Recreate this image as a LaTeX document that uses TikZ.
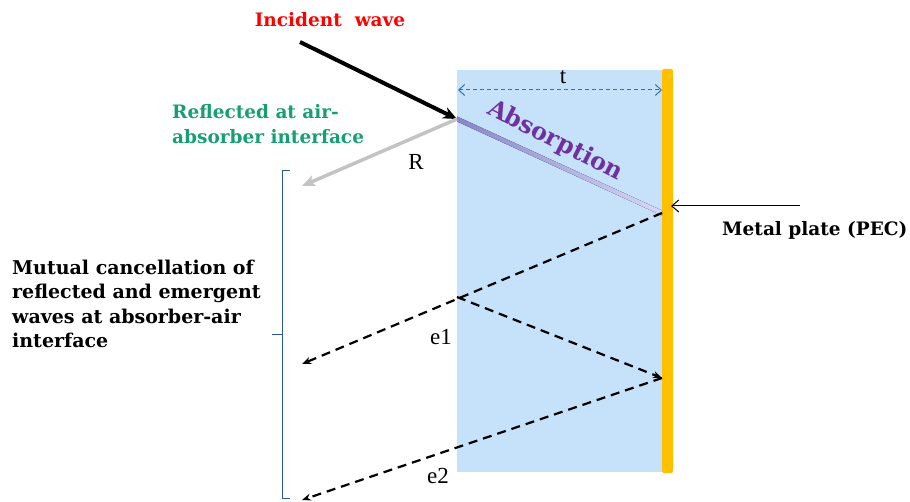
\documentclass[tikz,border=0pt]{standalone}
\usepackage{fontspec}
\setmainfont{Liberation Serif}
\newfontfamily\cambfont{DejaVu Serif}
\usetikzlibrary{arrows.meta}
\definecolor{absblue}{RGB}{198,225,250}
\definecolor{plate}{RGB}{255,192,0}
\definecolor{incred}{RGB}{255,0,0}
\definecolor{reflgreen}{RGB}{24,158,116}
\definecolor{abspurple}{RGB}{112,48,160}
\definecolor{tblue}{RGB}{46,117,182}
\definecolor{bracecol}{RGB}{40,90,160}
\definecolor{refgray}{RGB}{195,195,195}
\definecolor{gradA}{RGB}{135,135,200}
\definecolor{gradB}{RGB}{215,215,250}
\tikzset{
  lbl/.style={font=\fontsize{23}{24}\selectfont, inner sep=0pt},
  boldlbl/.style={font=\cambfont\fontsize{18.5}{24.5}\selectfont\bfseries, inner sep=0pt},
  wavedash/.style={line width=2.2pt, dash pattern=on 9pt off 6pt, -{Stealth[length=9pt,width=7pt]}},
}
\begin{document}
\begin{tikzpicture}[x=1pt,y=-1pt]
\useasboundingbox (0,0) rectangle (910,502);
% absorber and plate
\fill[absblue] (457,70) rectangle (662,472);
\fill[plate, rounded corners=2pt] (662,69) rectangle (673,473);
% coordinates
\coordinate (P) at (457,119);
\coordinate (Q) at (662,213);
\coordinate (S) at (662,378);
\coordinate (M) at (457,297);
\coordinate (inc) at (300,42);
\coordinate (Rend) at (302,186);
\coordinate (e1end) at (302,364);
\coordinate (e2end) at (302,500);
% absorption gradient
\fill[left color=gradA, right color=gradB] (457,116.5) -- (662,210.5) -- (662,215.5) -- (457,121.5) -- cycle;
% incident
\draw[line width=4pt, -{Stealth[length=14pt,width=12pt]}] (inc) -- (P);
% reflected
\draw[refgray, line width=3.5pt, -{Stealth[length=13pt,width=11pt,inset=3pt]}] (P) -- (Rend);
% dashed waves
\draw[wavedash] (Q) -- (e1end);
\draw[wavedash] (M) -- (S);
\draw[wavedash] (S) -- (e2end);
% thickness t
\coordinate (tl) at (458,90);
\coordinate (tr) at (662,90);
\draw[tblue, line width=1pt, dash pattern=on 4pt off 3pt, {Straight Barb[length=6pt,width=11pt]}-{Straight Barb[length=6pt,width=11pt]}] (tl) -- (tr);
\node[lbl] (t) at (563,77) {t};
% metal plate pointer
\coordinate (mp) at (800,206);
\coordinate (mpt) at (671,206);
\draw[line width=1pt, -{Straight Barb[length=7pt,width=12pt]}] (mp) -- (mpt);
\node[boldlbl, anchor=west] (metal) at (722,230) {Metal plate (PEC)};
% labels
\node[boldlbl, text=incred] (incl) at (330,20) {Incident\ \ wave};
\node[boldlbl, text=reflgreen, align=left, anchor=west] (refl) at (172,124) {Reflected at air-\\absorber interface};
\node[lbl] (R) at (416,162) {R};
\node[lbl] (e1) at (441,337) {e1};
\node[lbl] (e2) at (438,476) {e2};
\node[font=\cambfont\fontsize{24}{24}\selectfont\bfseries, text=abspurple, rotate=-27, inner sep=0pt] (abs) at (555,141) {Absorption};
\node[font=\cambfont\fontsize{19}{24.5}\selectfont\bfseries, inner sep=0pt, align=left, anchor=west] (mut) at (12,304) {Mutual cancellation of\\reflected and emergent\\waves at absorber-air\\interface};
% brace
\coordinate (b1) at (290,170);
\coordinate (b2) at (290,498);
\coordinate (bm) at (272,334);
\draw[bracecol, line width=0.9pt] (b1) -- (282,170) -- (282,334) -- (bm) (282,334) -- (282,498) -- (b2);
\end{tikzpicture}
\end{document}
